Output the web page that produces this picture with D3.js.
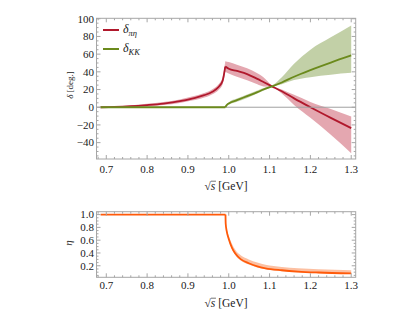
<!DOCTYPE html>
<html>
<head>
<meta charset="utf-8">
<script src="https://cdnjs.cloudflare.com/ajax/libs/d3/7.8.5/d3.min.js"></script>
<style>
  body { margin: 0; background: #fff; }
</style>
</head>
<body>
<div id="chart"></div>
<script>
// sqrt(s) grid, split at the KK threshold (index of cusp)
var xPiEta  = [0.686, 0.72, 0.76, 0.80, 0.84, 0.88, 0.91, 0.94, 0.96, 0.975, 0.985, 0.9915,
               1.0, 1.02, 1.045, 1.07, 1.085, 1.106, 1.13, 1.16, 1.2, 1.25, 1.3];
var dPiEta  = [0, 0.3, 1.1, 2.4, 4.1, 6.8, 9.8, 13.6, 17.6, 22.8, 30, 46,
               43.5, 41, 37.5, 32, 28.5, 23.6, 18, 10, 0, -12, -23.6];
var dPiEtaLo = [0, -0.4, 0.1, 1.0, 2.4, 4.8, 7.5, 11.0, 14.8, 19.6, 26, 40,
                38, 34.5, 30.5, 26, 23.5, 22.8, 15.5, 2.6, -12, -31, -52];
var dPiEtaHi = [0, 1.0, 2.1, 3.8, 5.8, 8.8, 12.1, 16.2, 20.4, 26.0, 34, 52,
                51, 48, 44, 38.5, 34, 24.4, 20, 14, 6, -2, -10.5];
var cuspPiEta = 11;

var xKK   = [0.686, 0.9915, 0.995, 1.0, 1.02, 1.045, 1.07, 1.085, 1.106, 1.13, 1.16, 1.2, 1.25, 1.3];
var dKK   = [0, 0, 2.4, 4.3, 8, 12.5, 17, 20, 23.6, 28, 34.5, 42, 50.5, 58.5];
var dKKLo = [0, 0, 1.6, 3.0, 6.2, 10.5, 15.5, 18.5, 22.8, 26, 30.7, 34, 36.8, 38.9];
var dKKHi = [0, 0, 3.2, 5.6, 9.8, 14.5, 19, 21.6, 24.6, 34, 49, 65, 79, 92.5];
var cuspKK = 1;

var xEta   = [0.686, 0.992, 0.9925, 0.995, 1.0, 1.008, 1.016, 1.03, 1.049, 1.07, 1.09, 1.13, 1.17, 1.22, 1.3];
var eta    = [1, 1, 0.86, 0.74, 0.62, 0.48, 0.39, 0.3, 0.24, 0.19, 0.16, 0.13, 0.11, 0.095, 0.08];
var etaLo  = [1, 1, 0.86, 0.73, 0.6, 0.46, 0.37, 0.28, 0.22, 0.175, 0.145, 0.115, 0.095, 0.085, 0.072];
var etaHi  = [1, 1, 0.87, 0.77, 0.67, 0.54, 0.45, 0.36, 0.3, 0.25, 0.215, 0.18, 0.16, 0.145, 0.13];
var cuspEta = 1;

var xTicks = [0.7, 0.8, 0.9, 1.0, 1.1, 1.2, 1.3];
var dTicks = [-40, -20, 0, 20, 40, 60, 80, 100];
var etaTicks = [0.2, 0.4, 0.6, 0.8, 1.0];

var W = 415, H = 321;
var svg = d3.select("#chart").append("svg").attr("width", W).attr("height", H)
    .attr("font-family", "'Liberation Serif'");

var x = d3.scaleLinear().domain([0.676, 1.311]).range([96.5, 355.7]);
var yTop = d3.scaleLinear().domain([-58.5, 100.5]).range([159, 18.3]);
var yBot = d3.scaleLinear().domain([0.02, 1.045]).range([277.3, 211.7]);

var frameCol = "#a6a6a6";
var textCol = "#1a1a1a";

function frame(y, yMajor, yMinorStep, fmt, labelDy) {
    var g = svg.append("g");
    var x0 = x.range()[0], x1 = x.range()[1], y0 = y.range()[0], y1 = y.range()[1];
    g.append("rect").attr("x", x0).attr("y", y1).attr("width", x1 - x0).attr("height", y0 - y1)
        .attr("fill", "none").attr("stroke", frameCol).attr("stroke-width", 1);
    // x ticks, top and bottom, pointing inward
    var xm = d3.range(0.66, 1.3201, 0.02).filter(function (v) { return v > x.domain()[0] && v < x.domain()[1]; });
    xm.forEach(function (v) {
        var major = Math.abs(Math.round(v * 10) - v * 10) < 1e-6;
        var len = major ? 4 : 2;
        g.append("line").attr("x1", x(v)).attr("x2", x(v)).attr("y1", y0).attr("y2", y0 - len).attr("stroke", frameCol);
        g.append("line").attr("x1", x(v)).attr("x2", x(v)).attr("y1", y1).attr("y2", y1 + len).attr("stroke", frameCol);
    });
    var d = y.domain();
    var ym = d3.range(Math.ceil(d[0] / yMinorStep) * yMinorStep, d[1] + 1e-9, yMinorStep);
    ym.forEach(function (v) {
        var major = yMajor.some(function (t) { return Math.abs(t - v) < 1e-6; });
        var len = major ? 4 : 2;
        g.append("line").attr("y1", y(v)).attr("y2", y(v)).attr("x1", x0).attr("x2", x0 + len).attr("stroke", frameCol);
        g.append("line").attr("y1", y(v)).attr("y2", y(v)).attr("x1", x1).attr("x2", x1 - len).attr("stroke", frameCol);
    });
    g.selectAll(".xl").data(xTicks).enter().append("text")
        .attr("x", function (v) { return x(v); }).attr("y", y0 + labelDy).attr("fill", textCol)
        .attr("text-anchor", "middle").attr("font-size", 11).text(function (v) { return v.toFixed(1); });
    g.selectAll(".yl").data(yMajor).enter().append("text")
        .attr("x", x0 - 2.5).attr("y", function (v) { return y(v); }).attr("dy", "0.35em").attr("fill", textCol)
        .attr("text-anchor", "end").attr("font-size", 11).text(fmt);
    return g;
}

function sqrtLabel(yy) {
    var t = svg.append("text").attr("x", 226).attr("y", yy).attr("text-anchor", "middle")
        .attr("font-size", 11.5).attr("fill", textCol);
    t.append("tspan").text("√");
    t.append("tspan").attr("font-style", "italic").text("s");
    t.append("tspan").text("  [GeV]");
    // radical bar over s
    var bb = t.node().getBBox();
    svg.append("line").attr("x1", bb.x + 6.5).attr("x2", bb.x + 11.5).attr("y1", yy - 8.8).attr("y2", yy - 8.8)
        .attr("stroke", textCol).attr("stroke-width", 0.6);
}

function draw(panel, xs, ys, lo, hi, cusp, yScale, col, band, curve1) {
    var pts = xs.map(function (v, i) { return { x: v, y: ys[i], lo: lo[i], hi: hi[i] }; });
    var segs = [pts.slice(0, cusp + 1), pts.slice(cusp)];
    segs.forEach(function (s, k) {
        var c = (k === 0 && curve1) ? curve1 : d3.curveMonotoneX;
        panel.append("path").datum(s)
            .attr("d", d3.area().x(function (p) { return x(p.x); }).y0(function (p) { return yScale(p.lo); })
                .y1(function (p) { return yScale(p.hi); }).curve(c))
            .attr("fill", band).attr("stroke", "none");
    });
    segs.forEach(function (s, k) {
        var c = (k === 0 && curve1) ? curve1 : d3.curveMonotoneX;
        panel.append("path").datum(s)
            .attr("d", d3.line().x(function (p) { return x(p.x); }).y(function (p) { return yScale(p.y); }).curve(c))
            .attr("fill", "none").attr("stroke", col).attr("stroke-width", 1.8);
    });
}

// ----- top panel -----
var topPanel = svg.append("g");
draw(topPanel, xPiEta, dPiEta, dPiEtaLo, dPiEtaHi, cuspPiEta, yTop, "#b0182c", "rgba(196,60,80,0.45)");
topPanel.append("line").attr("x1", x.range()[0]).attr("x2", x.range()[1]).attr("y1", yTop(0)).attr("y2", yTop(0))
    .attr("stroke", "#a0a0a0").attr("stroke-width", 1);
draw(topPanel, xKK, dKK, dKKLo, dKKHi, cuspKK, yTop, "#6b8a1c", "rgba(120,150,60,0.45)", d3.curveLinear);
frame(yTop, dTicks, 5, function (v) { return v < 0 ? "−" + (-v) : v; }, 13.5);
sqrtLabel(190);
svg.append("text").attr("transform", "translate(73,85) rotate(-90)").attr("text-anchor", "middle")
    .attr("font-size", 9).attr("fill", textCol).html('<tspan font-style="italic">δ</tspan> [deg.]');

// legend
var legend = [{ name: "πη", col: "#b0182c", y: 30 }, { name: "KK", col: "#6b8a1c", y: 49 }];
legend.forEach(function (l) {
    svg.append("line").attr("x1", 103).attr("x2", 119).attr("y1", l.y).attr("y2", l.y)
        .attr("stroke", l.col).attr("stroke-width", 2);
    var t = svg.append("text").attr("x", 123).attr("y", l.y + 3).attr("font-size", 12)
        .attr("font-style", "italic").attr("fill", textCol);
    t.append("tspan").text("δ");
    t.append("tspan").attr("font-size", 8.5).attr("dy", 2.5).text(l.name);
});

// ----- bottom panel -----
var botPanel = svg.append("g");
draw(botPanel, xEta, eta, etaLo, etaHi, cuspEta, yBot, "#ff5a0a", "rgba(250,150,100,0.6)", d3.curveLinear);
frame(yBot, etaTicks, 0.05, function (v) { return v.toFixed(1); }, 12);
sqrtLabel(307);
svg.append("text").attr("transform", "translate(72,243) rotate(-90)").attr("text-anchor", "middle")
    .attr("font-size", 11).attr("font-style", "italic").attr("fill", textCol).text("η");
</script>
</body>
</html>
